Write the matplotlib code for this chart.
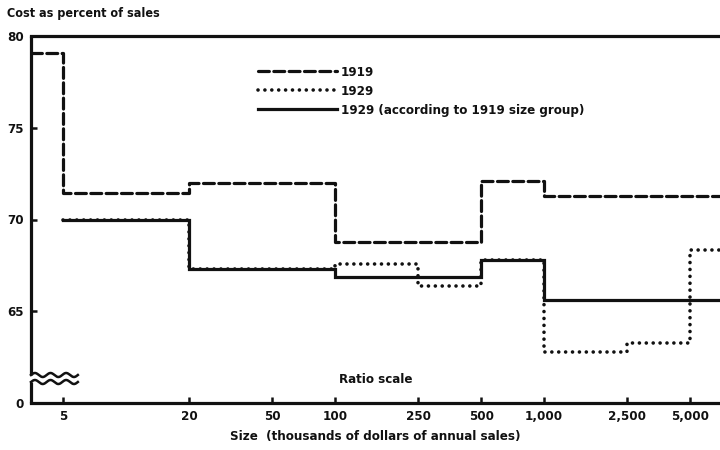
import numpy as np
import matplotlib
matplotlib.use('Agg')
import matplotlib.pyplot as plt

# 字体: 粗体、窄体无衬线
plt.rcParams['font.family'] = ['DejaVu Sans']
plt.rcParams['font.weight'] = 'bold'
plt.rcParams['font.stretch'] = 'condensed'
plt.rcParams['axes.labelweight'] = 'bold'

# 数据: 规模组边界(千美元)与成本占销售额百分比
edges_1919 = [3.5, 5, 20, 100, 500, 1000, 8000]
cost_1919 = [79.1, 71.45, 72.0, 68.8, 72.1, 71.3]

edges_1929 = [5, 20, 100, 250, 500, 1000, 2500, 5000, 8000]
cost_1929 = [70.0, 67.3, 67.6, 66.4, 67.8, 62.8, 63.25, 68.35]

edges_1929_by_1919 = [5, 20, 100, 500, 1000, 8000]
cost_1929_by_1919 = [70.0, 67.3, 66.85, 67.8, 65.6]

x_ticks = [5, 20, 50, 100, 250, 500, 1000, 2500, 5000]
x_tick_labels = ['5', '20', '50', '100', '250', '500', '1,000', '2,500', '5,000']
y_ticks = [60, 65, 70, 75, 80]          # 60 处画成断轴后的 "0"
y_tick_labels = ['0', '65', '70', '75', '80']

INK = '#111111'


def steps(edges, values):
    x = np.repeat(edges, 2)[1:-1]
    y = np.repeat(values, 2)
    return x, y


fig = plt.figure(figsize=(7.2, 4.5), dpi=100)
ax = fig.add_axes([31 / 720, 47 / 450, 689 / 720, 367 / 450])

lw = 2.3
x, y = steps(edges_1919, cost_1919)
ax.plot(x, y, color=INK, lw=lw, linestyle=(0, (3.4, 1.4)),
        dash_capstyle='round', dash_joinstyle='round', label='1919')
x, y = steps(edges_1929, cost_1929)
ax.plot(x, y, color=INK, lw=2.6, linestyle=(0, (0.01, 1.9)),
        dash_capstyle='round', label='1929')
x, y = steps(edges_1929_by_1919, cost_1929_by_1919)
ax.plot(x, y, color=INK, lw=lw, solid_joinstyle='miter',
        label='1929 (according to 1919 size group)')

ax.set_xscale('log')
ax.set_xlim(3.51, 6950)
ax.set_ylim(60, 80)
ax.set_xticks(x_ticks)
ax.set_xticklabels(x_tick_labels)
ax.minorticks_off()
ax.set_yticks(y_ticks)
ax.set_yticklabels(y_tick_labels)
ax.tick_params(direction='in', length=4, width=1.8, color=INK,
               labelsize=9.5, labelcolor=INK, pad=5)

for side in ['top', 'bottom']:
    ax.spines[side].set_linewidth(lw)
    ax.spines[side].set_color(INK)
ax.spines['right'].set_visible(False)
ax.spines['left'].set_visible(False)

# 左轴 + 断轴波浪线
y_hi, y_lo = 0.0763, 0.0572
ax.plot([0, 0], [1, y_hi], transform=ax.transAxes, color=INK, lw=lw,
        clip_on=False, solid_capstyle='butt')
ax.plot([0, 0], [0, y_lo], transform=ax.transAxes, color=INK, lw=lw,
        clip_on=False, solid_capstyle='butt')
t = np.linspace(0, 1, 200)
wx = t * 0.068
for yb in (y_hi, y_lo):
    ax.plot(wx, yb + 0.0055 * np.sin(t * 2 * np.pi * 3), transform=ax.transAxes,
            color=INK, lw=1.8, clip_on=False)

ax.set_xlabel('Size  (thousands of dollars of annual sales)', fontsize=9.5,
              fontweight='bold', color=INK, labelpad=5)
fig.text(0.01, 0.969, 'Cost as percent of sales', fontsize=9, color=INK,
         ha='left', va='center')
ax.text(0.5, 0.065, 'Ratio scale', transform=ax.transAxes, fontsize=9.5,
        color=INK, ha='center', va='center')

leg = ax.legend(loc='upper left', bbox_to_anchor=(258 / 720, 1 - 66 / 450),
                bbox_transform=fig.transFigure, frameon=False, fontsize=9.5,
                handlelength=6.0, handletextpad=0.3, labelspacing=0.45,
                borderpad=0, borderaxespad=0)
for txt in leg.get_texts():
    txt.set_color(INK)

fig.savefig('out.png', dpi=100, facecolor='white')
